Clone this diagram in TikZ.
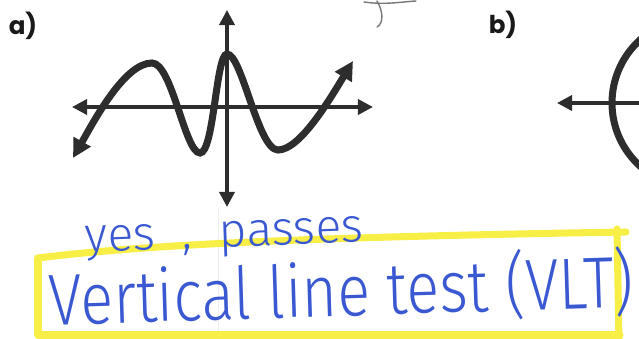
\documentclass[tikz,border=0pt]{standalone}
\usepackage{fontspec}
\setmainfont{Poppins}
\newfontfamily\handfont{Fira Sans Light}
\usetikzlibrary{arrows.meta,positioning}
\definecolor{graphink}{RGB}{45,45,45}
\definecolor{penblue}{RGB}{58,88,210}
\definecolor{markeryellow}{RGB}{247,238,70}
\definecolor{pencilgray}{RGB}{120,120,120}

\begin{document}
\begin{tikzpicture}[
    x=0.03cm, y=0.03cm,
    axisline/.style={{Triangle[length=13pt,width=13pt]}-{Triangle[length=13pt,width=13pt]}, line width=3pt, draw=graphink},
    graphline/.style={line width=6pt, draw=graphink},
    graphtips/.style={{Triangle[length=16pt,width=16pt]}-{Triangle[length=16pt,width=16pt]}},
    partlabel/.style={font=\bfseries\fontsize{21}{24}\selectfont, text=black!90, inner sep=0pt},
    hand/.style={font=\handfont\fontsize{41}{44}\selectfont, text=penblue, inner sep=0pt, anchor=base},
    bighand/.style={hand, font=\handfont\fontsize{62}{66}\selectfont},
    highlight/.style={line width=6pt, draw=markeryellow, line cap=round, line join=round},
    pencilmark/.style={line width=1.2pt, draw=pencilgray, line cap=round}
]
    \useasboundingbox (0,0) rectangle (639,339);
    \clip (0,0) rectangle (639,339);

    % Labels
    \node[partlabel] (labela) at (23,313) {a)};
    \node[partlabel] (labelb) at (503,314) {b)};

    % Pencil marks at the top
    \draw[pencilmark] (364,337) .. controls (385,334) and (400,337) .. (416,338);
    \draw[pencilmark] (377,338) .. controls (383,328) and (384,316) .. (377,312);

    % Graph a
    \coordinate (axL) at (72,232);
    \coordinate (axR) at (373,232);
    \coordinate (ayT) at (227,329);
    \coordinate (ayB) at (227,132);
    \draw[axisline] (axL) -- (axR);
    \draw[axisline] (ayT) -- (ayB);
    \draw[graphline, graphtips] (73,181) .. controls (95,220) and (125,276) .. (152,276)
        .. controls (172,276) and (185,186) .. (200,186)
        .. controls (214,186) and (216,285) .. (227,285)
        .. controls (242,285) and (258,189) .. (278,189)
        .. controls (300,189) and (330,240) .. (353,278);

    % Graph b
    \coordinate (bxL) at (557,236);
    \coordinate (bxR) at (700,236);
    \draw[axisline, {Triangle[length=13pt,width=13pt]}-] (bxL) -- (bxR);
    \draw[graphline] (697,236) circle (85);

    % faint scan line
    \draw[line width=0.6pt, draw=black!7] (218,0) -- (218,130);

    % Highlighted answer
    \draw[highlight] (38,81) .. controls (150,95) and (320,102) .. (626,107);
    \draw[highlight] (38,81) -- (38,4) -- (620,4);
    \draw[highlight] (617,110) -- (619,-4);

    \node[hand, rotate=2] (yesnote) at (225,92) {yes \ , \ passes};
    \node[bighand, rotate=1.8, xscale=0.84] (vltnote) at (342,23) {Vertical line test (VLT)};
\end{tikzpicture}
\end{document}
